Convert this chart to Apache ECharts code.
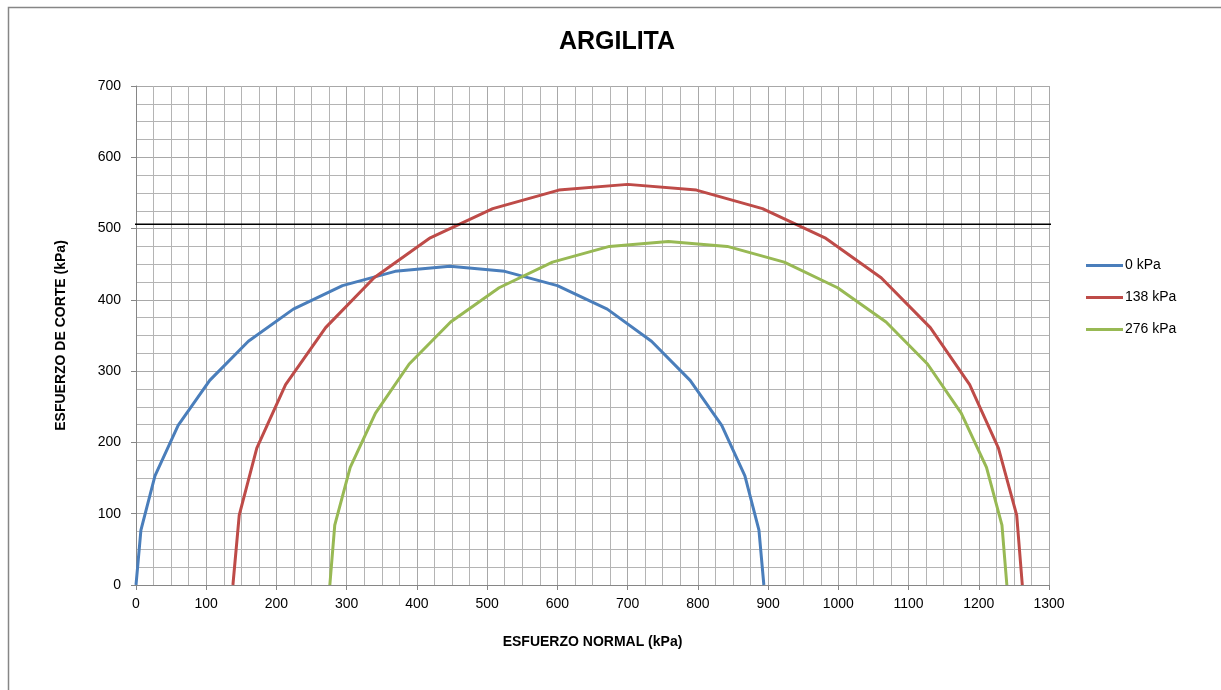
<!DOCTYPE html>
<html>
<head>
<meta charset="utf-8">
<script src="https://cdn.jsdelivr.net/npm/echarts@6/dist/echarts.min.js"></script>
<style>
html,body{margin:0;padding:0;background:#fff;}
#chart{width:1221px;height:690px;}
</style>
</head>
<body>
<div id="chart"></div>
<script>
const title = 'ARGILITA';
const xAxisName = 'ESFUERZO NORMAL (kPa)';
const yAxisName = 'ESFUERZO DE CORTE (kPa)';
const seriesNames = ['0 kPa', '138 kPa', '276 kPa'];

const blueX = [0, 7, 27, 60, 105, 160, 224, 294, 369, 447, 525, 600, 671, 734, 789, 834, 867, 887, 894];
const blueY = [0, 77, 153, 224, 287, 342, 387, 420, 440, 447, 440, 420, 387, 342, 287, 224, 153, 77, 0];

const redX = [138, 147, 172, 213, 270, 339, 419, 508, 602, 700, 798, 892, 981, 1061, 1131, 1187, 1228, 1254, 1262];
const redY = [0, 98, 192, 281, 361, 431, 487, 528, 554, 562, 554, 528, 487, 431, 361, 281, 192, 98, 0];

const greenX = [276, 283, 305, 341, 389, 448, 517, 593, 674, 758, 842, 923, 999, 1068, 1127, 1175, 1211, 1233, 1240];
const greenY = [0, 84, 165, 241, 310, 369, 417, 453, 475, 482, 475, 453, 417, 369, 310, 241, 165, 84, 0];

const refLineX = [-26, 1320];
const refLineY = [506, 506];

const xTicks = [0,100,200,300,400,500,600,700,800,900,1000,1100,1200,1300];
const yTicks = [0,100,200,300,400,500,600,700];

const zip = (xs, ys) => xs.map((x, i) => [x, ys[i]]);
const colors = ['#4A7EBB', '#BE4B48', '#98B954'];
const font = 'Liberation Sans, Arial, sans-serif';

const chart = echarts.init(document.getElementById('chart'));
chart.setOption({
  animation: false,
  backgroundColor: '#fff',
  title: {
    text: title, left: 617, top: 30, textAlign: 'center', padding: 0,
    textStyle: {fontFamily: font, fontSize: 25, fontWeight: 'bold', color: '#000'}
  },
  graphic: [{
    type: 'rect', left: 6, top: 5, shape: {width: 1400, height: 900},
    style: {fill: 'none', stroke: '#868686', lineWidth: 1.5}, silent: true
  }],
  grid: {left: 136, right: 172, top: 86, bottom: 105},
  legend: {
    orient: 'vertical', left: 1086, top: 257, padding: 0,
    data: seriesNames,
    icon: 'rect',
    itemWidth: 37, itemHeight: 3, itemGap: 15,
    textStyle: {fontFamily: font, fontSize: 14, color: '#000', padding: [0,0,0,-3], lineHeight: 17}
  },
  xAxis: {
    type: 'value', min: xTicks[0], max: xTicks[xTicks.length-1], interval: 100,
    name: xAxisName, nameLocation: 'middle', nameGap: 50,
    nameTextStyle: {fontFamily: font, fontSize: 14, fontWeight: 'bold', color: '#000'},
    axisLine: {show: true, lineStyle: {color: '#868686', width: 1}},
    axisTick: {show: true, length: 5, lineStyle: {color: '#868686'}},
    axisLabel: {fontFamily: font, fontSize: 14, color: '#000', margin: 12, formatter: v => String(v)},
    splitLine: {show: true, lineStyle: {color: '#a8a8a8', width: 1}},
    minorTick: {show: false, splitNumber: 4},
    minorSplitLine: {show: true, lineStyle: {color: '#b4b4b4', width: 1}}
  },
  yAxis: {
    type: 'value', min: yTicks[0], max: yTicks[yTicks.length-1], interval: 100,
    name: yAxisName, nameLocation: 'middle', nameGap: 68, nameRotate: 90,
    nameTextStyle: {fontFamily: font, fontSize: 14, fontWeight: 'bold', color: '#000'},
    axisLine: {show: true, lineStyle: {color: '#868686', width: 1}},
    axisTick: {show: true, length: 5, lineStyle: {color: '#868686'}},
    axisLabel: {fontFamily: font, fontSize: 14, color: '#000', margin: 15, formatter: v => String(v)},
    splitLine: {show: true, lineStyle: {color: '#a8a8a8', width: 1}},
    minorTick: {show: false, splitNumber: 4},
    minorSplitLine: {show: true, lineStyle: {color: '#b4b4b4', width: 1}}
  },
  series: [
    {name: seriesNames[0], type: 'line', data: zip(blueX, blueY), symbol: 'none', color: colors[0], lineStyle: {width: 3, color: colors[0]}},
    {name: seriesNames[1], type: 'line', data: zip(redX, redY), symbol: 'none', color: colors[1], lineStyle: {width: 3, color: colors[1]}},
    {name: seriesNames[2], type: 'line', data: zip(greenX, greenY), symbol: 'none', color: colors[2], lineStyle: {width: 3, color: colors[2]}},
    {name: 'ref', type: 'line', data: zip(refLineX, refLineY), symbol: 'none', clip: false, color: '#000', lineStyle: {width: 1.5, color: '#000'}, z: 5}
  ]
});
</script>
</body>
</html>
